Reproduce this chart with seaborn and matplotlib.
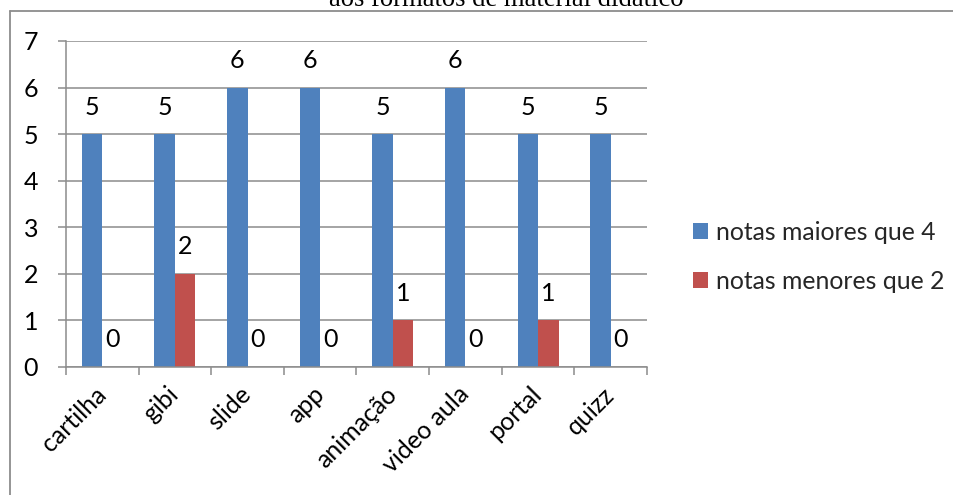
import numpy as np
import pandas as pd
import matplotlib
matplotlib.use("Agg")
import matplotlib.pyplot as plt
from matplotlib.lines import Line2D
from matplotlib.patches import Patch
import seaborn as sns

formatos = ["cartilha", "gibi", "slide", "app", "animação", "video aula", "portal", "quizz"]
notas_maiores_4 = [5, 5, 6, 6, 5, 6, 5, 5]
notas_menores_2 = [0, 2, 0, 0, 1, 0, 1, 0]
series = ["notas maiores que 4", "notas menores que 2"]
cores = ["#4F81BD", "#C0504D"]
titulo = "aos formatos de material didático"

df = pd.DataFrame({
    "formato": formatos * 2,
    "valor": notas_maiores_4 + notas_menores_2,
    "serie": [series[0]] * len(formatos) + [series[1]] * len(formatos),
})

sns.set_theme(style="white")
plt.rcParams["font.family"] = ["Lato", "DejaVu Sans"]

W, H = 954, 495
fig = plt.figure(figsize=(W / 100, H / 100), dpi=100)
ax = fig.add_axes([66 / W, 1 - 367 / H, (647 - 66) / W, (367 - 41) / H])

sns.barplot(data=df, x="formato", y="valor", hue="serie", palette=cores,
            width=0.565, saturation=1, linewidth=0, dodge=True, ax=ax,
            legend=False, order=formatos, hue_order=series)

grid_c = "#8c8c8c"
fs = 18
ax.set_ylim(0, 7)
ax.set_xlim(-0.5, len(formatos) - 0.5)
ax.set_yticks(range(8))
ax.yaxis.grid(True, color=grid_c, linewidth=1.1)
ax.set_axisbelow(True)
for s in ["top", "right"]:
    ax.spines[s].set_visible(False)
for s in ["left", "bottom"]:
    ax.spines[s].set_color(grid_c)
    ax.spines[s].set_linewidth(1.1)

# category boundary ticks, labels centred under each group
ax.set_xticks(np.arange(-0.5, len(formatos)), labels=[])
ax.set_xticks(np.arange(len(formatos)), labels=formatos, minor=True)
ax.tick_params(axis="x", which="major", direction="out", length=6, width=1.1,
               color=grid_c, bottom=True)
ax.tick_params(axis="x", which="minor", length=0, pad=17, labelsize=fs)
ax.tick_params(axis="y", direction="out", length=6, width=1.1, color=grid_c,
               left=True, pad=14, labelsize=fs)
for lab in ax.get_xticklabels(minor=True):
    lab.set_rotation(45)
    lab.set_ha("right")
    lab.set_va("center")
    lab.set_rotation_mode("anchor")
    lab.set_color("black")
for lab in ax.get_yticklabels():
    lab.set_color("black")
ax.set_xlabel("")
ax.set_ylabel("")

# value labels above each bar
for cont in ax.containers:
    for bar in cont:
        h = bar.get_height()
        ax.annotate(f"{h:.0f}", (bar.get_x() + bar.get_width() / 2, h),
                    xytext=(0, 19.5), textcoords="offset points",
                    ha="center", va="center", fontsize=fs, color="black")

handles = [Patch(facecolor=c, edgecolor="none", label=l) for c, l in zip(cores, series)]
fig.legend(handles=handles, loc="center left", bbox_to_anchor=(683 / W, 1 - 257 / H),
           frameon=False, fontsize=17.8, handlelength=0.62, handleheight=0.62,
           handletextpad=0.3, labelspacing=1.05, borderaxespad=0)

# chart border and the caption sitting above it
fig.add_artist(Line2D([10 / W, 1.0], [1 - 11 / H, 1 - 11 / H], transform=fig.transFigure,
                      color=grid_c, linewidth=1.3))
fig.add_artist(Line2D([10 / W, 10 / W], [0, 1 - 11 / H], transform=fig.transFigure,
                      color=grid_c, linewidth=1.3))
fig.text(506 / W, 1 - 6.5 / H, titulo, ha="center", va="baseline",
         fontsize=19.2, family=["Liberation Serif", "DejaVu Serif"], color="black")

fig.savefig("out.png", dpi=100)
